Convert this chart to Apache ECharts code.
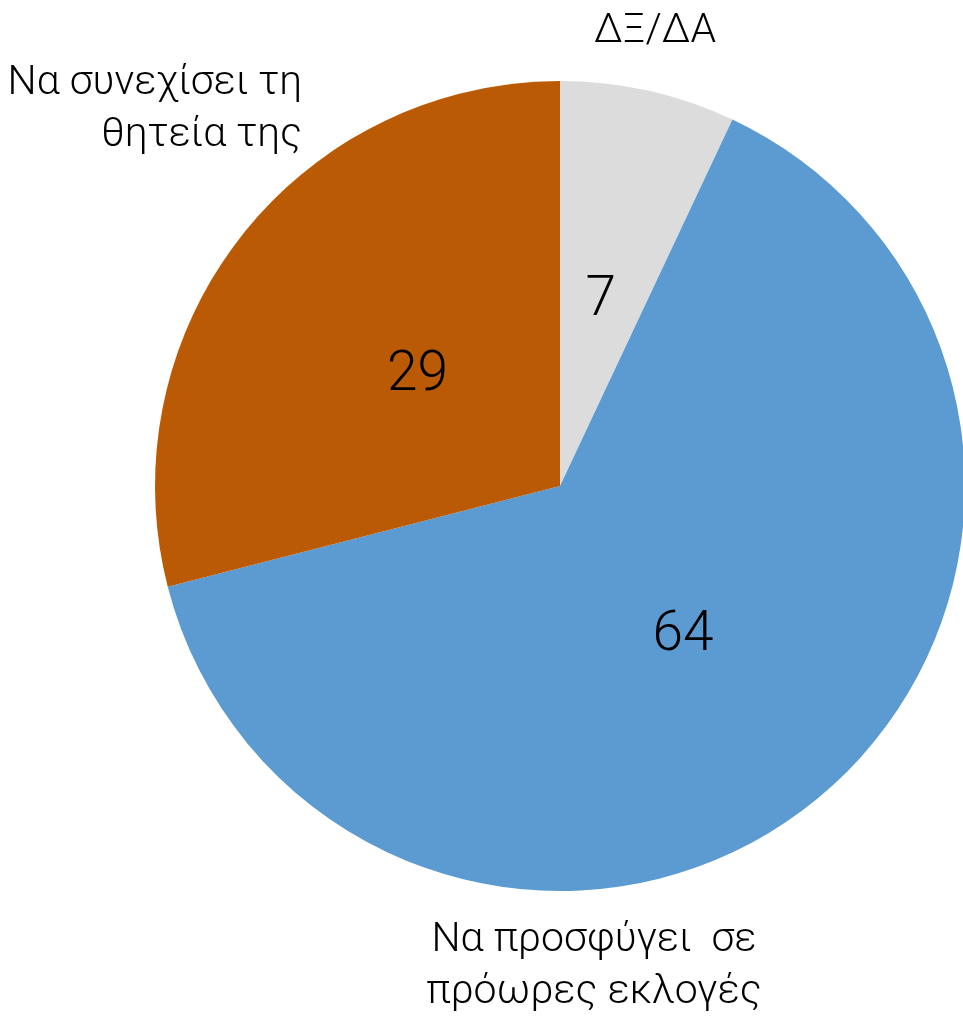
<!DOCTYPE html>
<html>
<head>
<meta charset="utf-8">
<script src="https://cdn.jsdelivr.net/npm/echarts@6/dist/echarts.min.js"></script>
<style>html,body{margin:0;padding:0;background:#fff}#c{width:963px;height:1017px}</style>
</head>
<body>
<div id="c"></div>
<script>
var categories = ['ΔΞ/ΔΑ', 'Να προσφύγει  σε\nπρόωρες εκλογές', 'Να συνεχίσει τη\nθητεία της'];
var values = [7, 64, 29];
var colors = ['#dcdcdc', '#5b9bd1', '#bb5a05'];

var FONT = 'Roboto, "Liberation Sans", sans-serif';
var outsidePos = [
  {x: 655, y: 32, align: 'center'},
  {x: 594, y: 967, align: 'center'},
  {x: 302, y: 110, align: 'right'}
];
var insideShift = [
  {dx: -4, dy: 16},
  {dx: -8, dy: -8},
  {dx: 20, dy: 16}
];

var chart = echarts.init(document.getElementById('c'), null, {renderer: 'canvas'});
var data = categories.map(function (n, i) {
  return {name: n, value: values[i], itemStyle: {color: colors[i]}};
});
chart.setOption({
  animation: false,
  series: [
    {
      type: 'pie',
      center: [560, 486],
      radius: [0, 405],
      startAngle: 90,
      clockwise: true,
      data: data,
      itemStyle: {borderWidth: 0},
      label: {
        show: true,
        position: 'inside',
        formatter: '{c}',
        color: '#000',
        fontSize: 55,
        fontFamily: FONT,
        fontWeight: 300,
        overflow: 'none'
      },
      labelLine: {show: false},
      labelLayout: function (p) {
        var s = insideShift[p.dataIndex];
        return {dx: s.dx, dy: s.dy};
      },
      emphasis: {disabled: true}
    },
    {
      type: 'pie',
      center: [560, 486],
      radius: [0, 405],
      startAngle: 90,
      clockwise: true,
      silent: true,
      data: data.map(function (d) { return {name: d.name, value: d.value, itemStyle: {color: 'rgba(0,0,0,0)'}}; }),
      label: {
        show: true,
        position: 'outside',
        formatter: '{b}',
        color: '#000',
        fontSize: 41,
        lineHeight: 52,
        fontFamily: FONT,
        fontWeight: 300,
        overflow: 'none',
        width: 420
      },
      labelLine: {show: false},
      labelLayout: function (p) {
        var o = outsidePos[p.dataIndex];
        return {x: o.x, y: o.y, align: o.align, verticalAlign: 'middle'};
      },
      emphasis: {disabled: true}
    }
  ]
});
</script>
</body>
</html>
